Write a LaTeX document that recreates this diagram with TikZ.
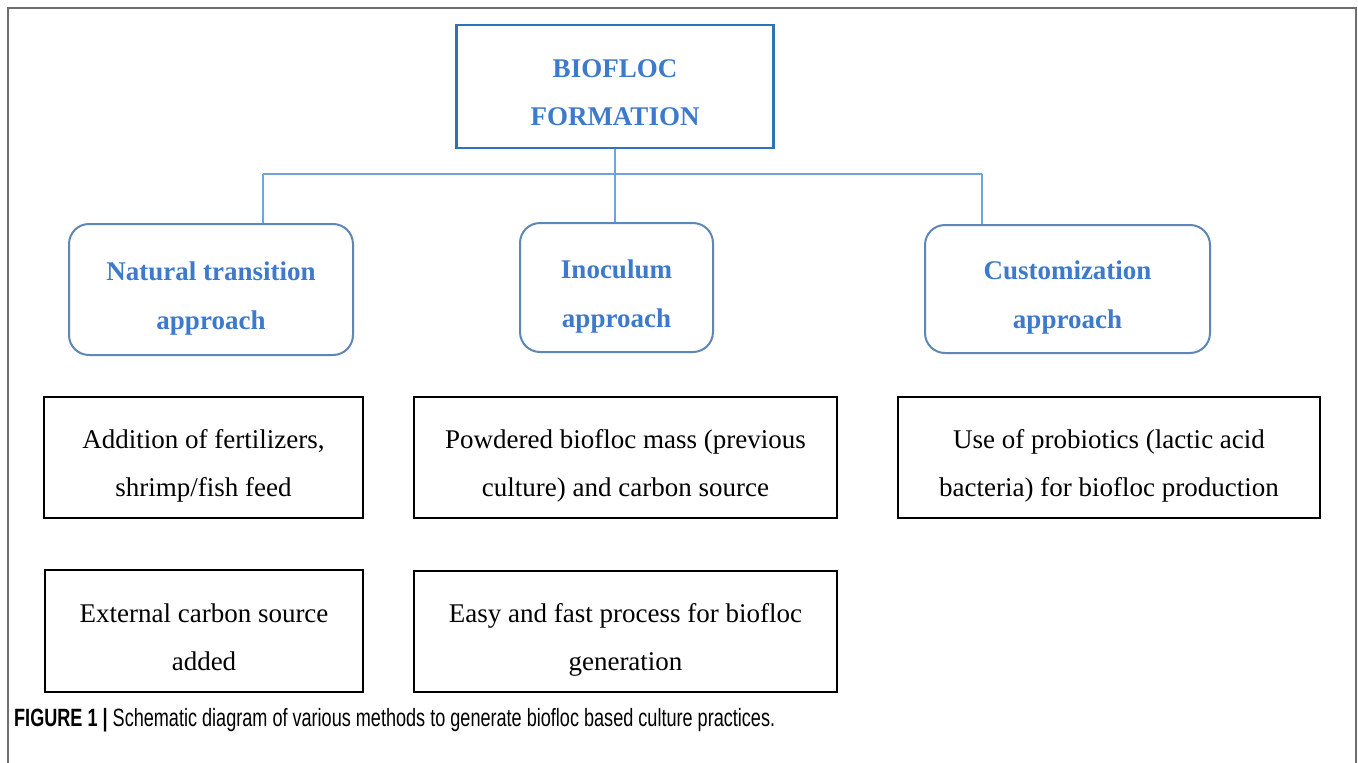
\documentclass[tikz,border=0pt]{standalone}
\usepackage{fontspec}
\setmainfont{Liberation Serif}
\newfontfamily\capfont{Liberation Sans}
\definecolor{topblue}{HTML}{2E74B5}
\definecolor{txtblue}{HTML}{3D7ACB}
\definecolor{rndblue}{HTML}{5F86B8}
\definecolor{lineblue}{HTML}{6FA3DB}
\definecolor{framegray}{HTML}{6E6E6E}
\newcommand\firstln{\rule{0pt}{36pt}}
\newcommand\lastln{\rule[-6pt]{0pt}{6pt}}
\begin{document}
\begin{tikzpicture}[x=1pt,y=-1pt,
  topbox/.style={draw=topblue,line width=2.2pt,inner sep=0pt,align=center,
    text=txtblue,font=\fontsize{27}{48}\selectfont\bfseries},
  approachbox/.style={draw=rndblue,line width=2pt,rounded corners=20pt,inner sep=0pt,align=center,
    text=txtblue,font=\fontsize{27}{49}\selectfont\bfseries},
  detailbox/.style={draw=black,line width=2.4pt,inner sep=0pt,align=center,
    font=\fontsize{27}{48}\selectfont},
  link/.style={draw=lineblue,line width=1.8pt}]
\useasboundingbox (0,0) rectangle (1358,763);
\fill[white] (0,0) rectangle (1358,763);
% frame
\draw[framegray,line width=2pt] (8,763) -- (8,8) -- (1356,8) -- (1356,763);

\node[topbox,minimum width=317pt,minimum height=123pt] (top) at (615,86.5) {\firstln BIOFLOC\\FORMATION\lastln};

\node[approachbox,minimum width=284pt,minimum height=131pt] (nat) at (211,289.5) {\firstln Natural transition\\approach\lastln};
\node[approachbox,minimum width=193pt,minimum height=129pt] (ino) at (616.5,287.5) {\firstln Inoculum\\approach\lastln};
\node[approachbox,minimum width=285pt,minimum height=128pt] (cus) at (1067.5,289) {\firstln Customization\\approach\lastln};

\node[detailbox,minimum width=319pt,minimum height=121pt] (d1) at (203.5,457.5) {\firstln Addition of fertilizers,\\shrimp/fish feed\lastln};
\node[detailbox,minimum width=318pt,minimum height=122pt] (d2) at (204,631) {\firstln External carbon source\\added\lastln};
\node[detailbox,minimum width=423pt,minimum height=121pt] (d3) at (625.5,457.5) {\firstln Powdered biofloc mass (previous\\culture) and carbon source\lastln};
\node[detailbox,minimum width=423pt,minimum height=121pt] (d4) at (625.5,631.5) {\firstln Easy and fast process for biofloc\\generation\lastln};
\node[detailbox,minimum width=422pt,minimum height=121pt] (d5) at (1109,457.5) {\firstln Use of probiotics (lactic acid\\bacteria) for biofloc production\lastln};

% connectors
\coordinate (hub) at (615,174);
\coordinate (hl) at (263,174);
\coordinate (hr) at (982,174);
\draw[link] (top.south) -- (top.south |- ino.north);
\draw[link] (hl) -- (hr);
\draw[link] (hl) -- (hl |- nat.north);
\draw[link] (hr) -- (hr |- cus.north);

% caption
\node[anchor=west,inner sep=0pt] (cap) at (14,720)
  {\resizebox{761pt}{\height}{\capfont\fontsize{25}{28}\selectfont\textbf{FIGURE 1 \textbar} Schematic diagram of various methods to generate biofloc based culture practices.}};
\end{tikzpicture}
\end{document}
